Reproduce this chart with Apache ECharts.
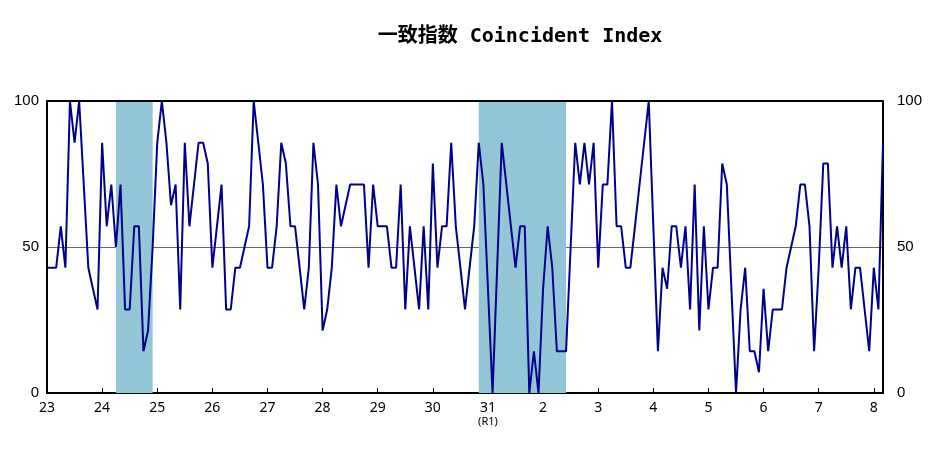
<!DOCTYPE html>
<html><head><meta charset="utf-8">
<script src="https://cdn.jsdelivr.net/npm/echarts@6/dist/echarts.min.js"></script>
<style>html,body{margin:0;padding:0;background:#fff}#c{width:933px;height:464px}</style>
</head><body><div id="c"></div>
<script>
// Levels in units of 1/14 (diffusion index), Jan 2011 (H23) .. Mar 2026 (R8)
const levels = [
6,6,6,8,6,14,12,14,10,6,5,4,
12,8,10,7,10,4,4,8,8,2,3,7,
12,14,12,9,10,4,12,8,10,12,12,11,
6,8,10,4,4,6,6,7,8,14,12,10,
6,6,8,12,11,8,8,6,4,6,12,10,
3,4,6,10,8,9,10,10,10,10,6,10,
8,8,8,6,6,10,4,8,6,4,8,4,
11,6,8,8,12,8,6,4,6,8,12,10,
5,0,6,12,10,8,6,8,8,0,2,0,
5,8,6,2,2,2,7,12,10,12,10,12,
6,10,10,14,8,8,6,6,8,10,12,14,
8,2,6,5,8,8,6,8,4,10,3,8,
4,6,6,11,10,5,0,4,6,2,2,1,
5,2,4,4,4,6,7,8,10,10,8,2,
6,11,11,6,8,6,8,4,6,6,4,2,
6,4,12
];
const values = levels.map(v => +(v * 100 / 14).toFixed(1));
const yearLabels = ['23','24','25','26','27','28','29','30','31','2','3','4','5','6','7','8'];
const recessions = [[15, 23], [94, 113]];
const categories = values.map((_, i) => String(i));

const chart = echarts.init(document.getElementById('c'));
chart.setOption({
  animation: false,
  title: {
    text: '一致指数 Coincident Index', left: 515, top: 22, textAlign: 'center',
    textStyle: { fontFamily: 'DejaVu Sans Mono, Noto Sans CJK JP', fontSize: 20, fontWeight: 'bold', color: '#000' }
  },
  grid: { left: 47, right: 50, top: 101, bottom: 71 },
  xAxis: {
    type: 'category', data: categories, boundaryGap: false,
    axisLine: { lineStyle: { color: '#000', width: 2 } },
    axisTick: { inside: true, length: 5, lineStyle: { color: '#000' }, interval: (i) => i % 12 === 0 },
    axisLabel: {
      interval: (i) => i % 12 === 0, color: '#000', fontSize: 14, fontFamily: 'Liberation Sans Narrow, Noto Sans',
      formatter: (v) => { const i = +v; const y = yearLabels[i / 12]; return y === '31' ? '31\n{s|(R1)}' : y; },
      rich: { s: { fontSize: 11, color: '#000', lineHeight: 14 } }
    }
  },
  yAxis: [
    { type: 'value', min: 0, max: 100, interval: 50, position: 'left',
      axisLine: { show: true, lineStyle: { color: '#000', width: 2 } }, axisTick: { show: false },
      axisLabel: { color: '#000', fontSize: 15, margin: 8 },
      splitLine: { show: true, lineStyle: { color: '#666', width: 1 } } },
    { type: 'value', min: 0, max: 100, interval: 50, position: 'right',
      axisLine: { show: true, lineStyle: { color: '#000', width: 2 } }, axisTick: { show: false },
      axisLabel: { color: '#000', fontSize: 15, margin: 14 }, splitLine: { show: false } }
  ],
  series: [{
    type: 'line', data: values, symbol: 'none',
    lineStyle: { color: '#00008B', width: 2 },
    markArea: {
      silent: true, itemStyle: { color: '#92C5D6' },
      data: recessions.map(r => [{ xAxis: String(r[0]) }, { xAxis: String(r[1]) }])
    },
    markLine: {
      silent: true, symbol: 'none', label: { show: false },
      lineStyle: { color: '#000', width: 2, type: 'solid' }, data: [{ yAxis: 100 }]
    },
    z: 3
  }]
});
</script></body></html>
